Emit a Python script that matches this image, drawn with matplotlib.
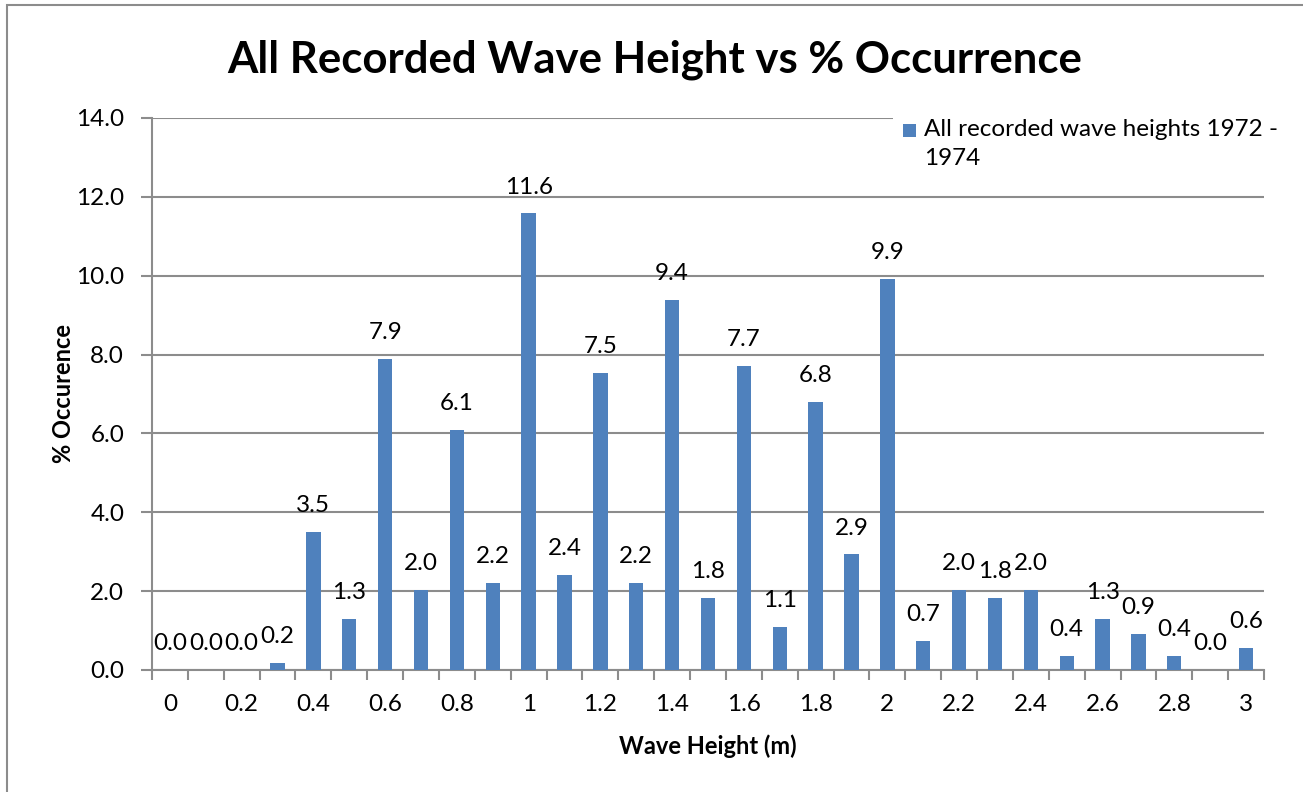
import numpy as np
import matplotlib
matplotlib.use("Agg")
import matplotlib.pyplot as plt
from matplotlib.patches import Rectangle

plt.rcParams['font.family'] = ['Lato', 'DejaVu Sans']

# wave height classes (m) and % occurrence
heights = [round(0.1 * i, 1) for i in range(31)]
occurrence = [0.0, 0.0, 0.0, 0.18, 3.5, 1.29, 7.9, 2.02, 6.08, 2.2,
              11.58, 2.4, 7.53, 2.2, 9.38, 1.83, 7.72, 1.1, 6.8, 2.93,
              9.92, 0.73, 2.02, 1.83, 2.02, 0.36, 1.29, 0.91, 0.36, 0.0, 0.56]
tick_labels = ["0", "0.2", "0.4", "0.6", "0.8", "1", "1.2", "1.4", "1.6",
               "1.8", "2", "2.2", "2.4", "2.6", "2.8", "3"]
y_ticks = [0, 2, 4, 6, 8, 10, 12, 14]
series_name = "All recorded wave heights 1972 -\n1974"

BAR = "#4F81BD"
GRID = "#8C8C8C"
FS = 17.5
W, H = 1303, 792


def fx(px):
    return px / W


def fy(py):
    return 1 - py / H


fig = plt.figure(figsize=(13.03, 7.92), dpi=100)
ax = fig.add_axes([fx(152), fy(670), (1264 - 152) / W, (670 - 118) / H])

# chart border
fig.patches.append(Rectangle((fx(7), -0.05), 1.2, fy(5) + 0.05,
                             transform=fig.transFigure, fill=False,
                             edgecolor=GRID, linewidth=1.5))

x = np.arange(len(heights))
ax.bar(x, occurrence, width=0.4, color=BAR, zorder=3)

for xi, v in zip(x, occurrence):
    ax.annotate(f"{v:.1f}", (xi, v), xytext=(0, 19), textcoords="offset points",
                ha="center", va="center", fontsize=FS, zorder=4)

ax.set_xlim(-0.5, len(heights) - 0.5)
ax.set_ylim(0, 14)
ax.set_yticks(y_ticks)
ax.set_yticklabels([f"{t:.1f}" for t in y_ticks], fontsize=FS)
ax.set_xticks(np.arange(0, len(heights), 2))
ax.set_xticklabels(tick_labels, fontsize=FS)
ax.set_xticks(np.arange(-0.5, len(heights), 1), minor=True)
ax.tick_params(axis="x", which="major", length=0, pad=17)
ax.tick_params(axis="x", which="minor", length=7, color=GRID, width=1.5)
ax.tick_params(axis="y", length=8, color=GRID, width=1.5, pad=12)

ax.grid(axis="y", color=GRID, linewidth=1.5, zorder=0)
for s in ["top", "right"]:
    ax.spines[s].set_visible(False)
for s in ["left", "bottom"]:
    ax.spines[s].set_color(GRID)
    ax.spines[s].set_linewidth(1.5)

ax.set_xlabel("Wave Height (m)", fontsize=17, fontweight="bold", labelpad=14)
ax.set_ylabel("% Occurence", fontsize=17, fontweight="bold", labelpad=0)
ax.yaxis.set_label_coords((75 - 152) / (1264 - 152), 0.5)

fig.text(fx(655), fy(60), "All Recorded Wave Height vs % Occurrence",
         ha="center", va="center", fontsize=31.5, fontweight="bold")

# legend (Excel style: square key aligned with first text line)
fig.patches.append(Rectangle((fx(893), fy(182)), (1266 - 893) / W, (182 - 112) / H,
                             transform=fig.transFigure, facecolor="white",
                             edgecolor="none", zorder=5))
fig.patches.append(Rectangle((fx(903), fy(137)), 13 / W, 13 / H,
                             transform=fig.transFigure, facecolor=BAR,
                             edgecolor="none", zorder=6))
fig.text(fx(924), fy(119), series_name, ha="left", va="top",
         fontsize=FS, linespacing=1.45, zorder=7)

fig.savefig("out.png", dpi=100)
